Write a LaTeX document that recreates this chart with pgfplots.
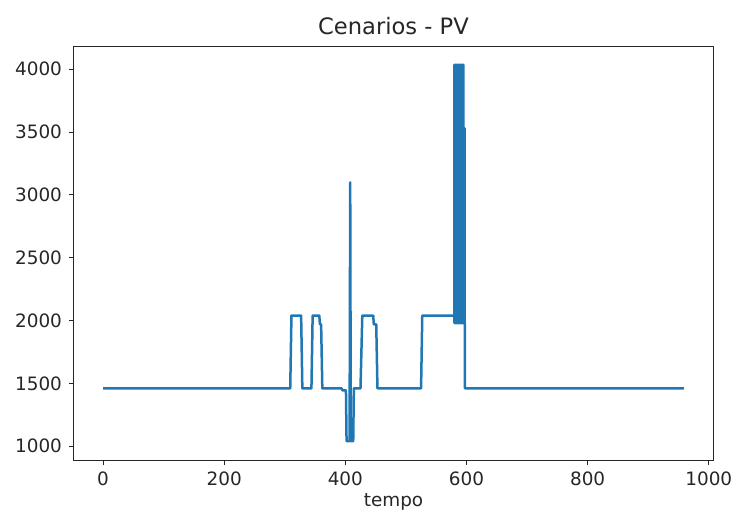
\documentclass[border=0pt]{standalone}
\usepackage{pgfplots}
\pgfplotsset{compat=1.18}
\usepackage{fontspec}
\setmainfont{DejaVu Sans}
\definecolor{mplblue}{HTML}{1F77B4}

\begin{document}
\begin{tikzpicture}
\begin{axis}[
    scale only axis,
    width=319.5pt,
    height=207pt,
    xmin=-48, xmax=1007,
    ymin=890, ymax=4185,
    xtick={0,200,...,1000},
    ytick={1000,1500,...,4000},
    tick align=outside,
    tick pos=left,
    major tick length=2.5pt,
    axis line style={line width=0.5pt, black!85},
    every tick/.style={black!85, line width=0.5pt},
    tick label style={font=\fontsize{9.2}{11}\selectfont, black!85},
    /pgf/number format/assume math mode=true,
    /pgf/number format/1000 sep={},
    xlabel={tempo},
    xlabel style={font=\fontsize{9.2}{11}\selectfont, black!85, yshift=3pt},
    title={Cenarios - PV},
    title style={font=\fontsize{11.3}{13}\selectfont, black!85, yshift=-4pt},
]
\coordinate (sw) at (rel axis cs:0,0);
\coordinate (ne) at (rel axis cs:1,1);
% dense oscillation band (envelope) so it renders solid
\addplot[fill=mplblue, draw=none, forget plot] coordinates {
    (580,1980) (580,4035) (595,4035) (595,3530) (597,3530) (597,1980)
} --cycle;
\addplot[mplblue, line width=1.25pt, line join=round] coordinates {
    (0,1460) (309,1460) (311,2040) (327,2040) (329,1460)
    (344,1460) (346,2040) (357,2040) (358,1970) (360,1970) (362,1460)
    (394,1460) (395,1445) (401,1445) (402,1040) (407,1040) (408,3100)
    (409,1040) (413,1040) (414,1460) (425,1460) (428,2040)
    (446,2040) (447,1970) (451,1970) (453,1460)
    (525,1460) (527,2040) (580,2040)
    (580,1980) (580,4035) (581,4035) (581,1980) (582,1980) (582,4035)
    (583,4035) (583,1980) (584,1980) (584,4035) (585,4035) (585,1980)
    (586,1980) (586,4035) (587,4035) (587,1980) (588,1980) (588,4035)
    (589,4035) (589,1980) (590,1980) (590,4035) (591,4035) (591,1980)
    (592,1980) (592,4035) (593,4035) (593,1980) (594,1980) (594,4035)
    (595,4035) (595,1980) (596,1980) (596,3530) (597,3530) (597,1980)
    (597.5,1980) (597.5,1460)
    (959,1460)
};
\end{axis}
\pgfresetboundingbox
\path[use as bounding box] ([xshift=-37pt,yshift=-30pt]sw) rectangle ([xshift=9.5pt,yshift=23pt]ne);
\end{tikzpicture}
\end{document}
